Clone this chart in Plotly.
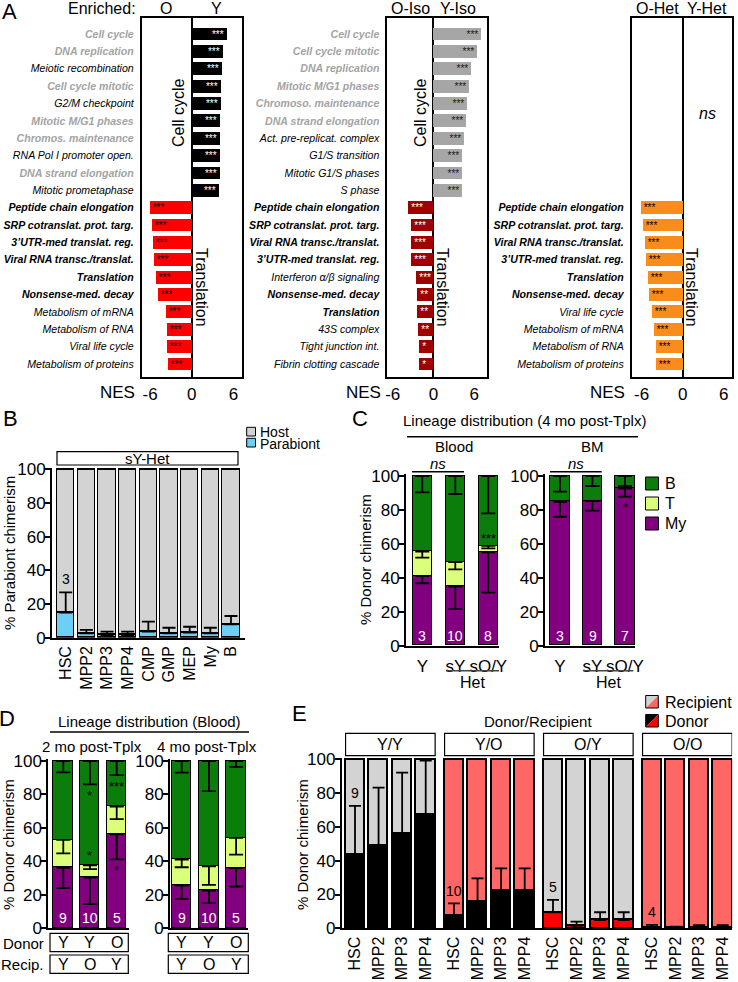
import plotly.graph_objects as go

# ======================= DATA =======================
# Panel A: GSEA normalised enrichment scores
a1_terms = ["Cell cycle", "DNA replication", "Meiotic recombination", "Cell cycle mitotic",
            "G2/M checkpoint", "Mitotic M/G1 phases", "Chromos. maintenance",
            "RNA Pol I promoter open.", "DNA strand elongation", "Mitotic prometaphase",
            "Peptide chain elongation", "SRP cotranslat. prot. targ.", "3’UTR-med translat. reg.",
            "Viral RNA transc./translat.", "Translation", "Nonsense-med. decay",
            "Metabolism of mRNA", "Metabolism of RNA", "Viral life cycle", "Metabolism of proteins"]
a1_nes = [5.1, 4.4, 4.3, 4.2, 4.2, 4.1, 4.1, 4.05, 4.05, 3.95,
          -6.05, -5.7, -5.6, -5.45, -5.25, -4.9, -3.8, -3.65, -3.6, -3.45]
a1_sig = ["***"] * 20

a2_terms = ["Cell cycle", "Cell cycle mitotic", "DNA replication", "Mitotic M/G1 phases",
            "Chromoso. maintenance", "DNA strand elongation", "Act. pre-replicat. complex",
            "G1/S transition", "Mitotic G1/S phases", "S phase",
            "Peptide chain elongation", "SRP cotranslat. prot. targ.", "Viral RNA transc./translat.",
            "3’UTR-med translat. reg.", "Interferon α/β signaling", "Nonsense-med. decay",
            "Translation", "43S complex", "Tight junction int.", "Fibrin clotting cascade"]
a2_nes = [7.0, 6.4, 5.6, 5.35, 4.95, 4.8, 4.5, 4.3, 4.3, 4.2,
          -3.75, -3.3, -3.3, -3.3, -2.6, -2.35, -2.35, -2.2, -2.1, -2.05]
a2_sig = ["***"] * 15 + ["**"] * 3 + ["*"] * 2

a3_terms = ["Peptide chain elongation", "SRP cotranslat. prot. targ.", "Viral RNA transc./translat.",
            "3’UTR-med translat. reg.", "Translation", "Nonsense-med. decay",
            "Viral life cycle", "Metabolism of mRNA", "Metabolism of RNA", "Metabolism of proteins"]
a3_nes = [-6.1, -5.8, -5.5, -5.35, -5.15, -4.9, -4.6, -4.3, -4.0, -3.9]
a3_sig = ["***"] * 10
a3_empty_rows = 10          # no cell-cycle terms enriched in Y-Het

# Panel B: parabiont chimerism in sY-Het
b_pops = ["HSC", "MPP2", "MPP3", "MPP4", "CMP", "GMP", "MEP", "My", "B"]
b_parabiont = [14.9, 2.6, 1.6, 1.6, 3.6, 2.6, 3.0, 2.6, 7.9]
b_err = [12.0, 2.0, 2.0, 2.0, 5.9, 3.3, 3.5, 3.3, 5.0]
b_n = 3

# Panel C: lineage distribution (4 mo post-Tplx)
c_groups = ["Y", "sY", "sO/Y"]
c_blood_my = [41.0, 34.8, 55.0]
c_blood_t = [14.4, 14.4, 3.8]
c_blood_my_err = [4.2, 13.3, 23.7]
c_blood_t_err = [3.5, 4.2, 1.5]
c_blood_b_err = [9.6, 10.6, 22.0]
c_blood_n = [3, 10, 8]
c_blood_sig_t = ["", "", "***"]
c_bm_my = [84.9, 85.3, 92.7]
c_bm_t = [0.0, 0.0, 0.0]
c_bm_my_err = [8.9, 5.7, 4.9]
c_bm_t_err = [0.0, 0.0, 0.0]
c_bm_b_err = [9.2, 5.9, 5.9]
c_bm_n = [3, 9, 7]
c_bm_sig_my = ["", "", "*"]

# Panel D: lineage distribution (Blood)
d_donor = ["Y", "Y", "O"]
d_recip = ["Y", "O", "Y"]
d2_my = [36.2, 30.3, 56.2]
d2_t = [16.6, 7.3, 16.5]
d2_my_err = [12.2, 15.8, 15.0]
d2_t_err = [8.0, 2.2, 7.5]
d2_b_err = [6.8, 14.0, 8.4]
d2_n = [9, 10, 5]
d2_sig_b = ["", "*", "***"]
d2_sig_t = ["", "*", ""]
d2_sig_my = ["", "", "*"]
d4_my = [25.5, 22.5, 36.0]
d4_t = [15.5, 14.5, 18.0]
d4_my_err = [8.0, 7.5, 11.0]
d4_t_err = [4.5, 11.0, 10.0]
d4_b_err = [7.0, 18.0, 3.5]
d4_n = [9, 10, 5]

# Panel E: donor chimerism (Donor/Recipient)
e_groups = ["Y/Y", "Y/O", "O/Y", "O/O"]
e_pops = ["HSC", "MPP2", "MPP3", "MPP4"]
e_donor_yy = [43.4, 48.7, 56.2, 67.1]
e_donor_yo = [7.3, 15.8, 22.1, 22.1]
e_donor_oy = [9.5, 1.4, 4.9, 4.9]
e_donor_oo = [0.4, 0.2, 0.3, 0.3]
e_err_yy = [29.0, 34.5, 35.9, 32.1]
e_err_yo = [7.5, 13.8, 13.4, 13.4]
e_err_oy = [7.3, 2.5, 4.6, 4.6]
e_err_oo = [1.6, 0.8, 1.5, 1.5]
e_n = [9, 10, 5, 4]

# ======================= STYLE / LAYOUT =======================
W, H = 738, 982
FONT = "Liberation Sans, Arial, Helvetica, sans-serif"
GREY_TERMS = {"Cell cycle", "DNA replication", "Cell cycle mitotic", "Mitotic M/G1 phases",
              "Chromos. maintenance", "Chromoso. maintenance", "DNA strand elongation"}
BOLD_TERMS = {"Peptide chain elongation", "SRP cotranslat. prot. targ.", "3’UTR-med translat. reg.",
              "Viral RNA transc./translat.", "Translation", "Nonsense-med. decay"}
C_B, C_T, C_MY = "#0b7d0b", "#dcff7a", "#82007f"
C_HOST, C_PARA = "#d3d3d3", "#6ccff6"
E_DONOR = {"Y": "#000000", "O": "#ff0000"}
E_RECIP = {"Y": "#d3d3d3", "O": "#ff6666"}
E_GAP = 0.2
TICK = 17


def X(p):
    return p / W


def Y(p):
    return 1 - p / H


def xdom(c0, step, lo, hi):
    return [X(c0 + step * lo), X(c0 + step * hi)]


def ydom(p0, p100, lo, hi):
    return [Y(p0 + (p100 - p0) * lo / 100.0), Y(p0 + (p100 - p0) * hi / 100.0)]


def sfx(k):
    return "" if k == 1 else str(k)


fig = go.Figure()
ann, shp, lay = [], [], {}


def text(x, y, s, size=15, xanchor="center", yanchor="middle", angle=0, color="black",
         xref="paper", yref="paper"):
    ann.append(dict(x=X(x) if xref == "paper" else x, y=Y(y) if yref == "paper" else y,
                    text=s, showarrow=False, textangle=angle, xref=xref, yref=yref,
                    font=dict(size=size, color=color, family=FONT),
                    xanchor=xanchor, yanchor=yanchor))


def line(x0, y0, x1, y1, w=1.5, color="black"):
    shp.append(dict(type="line", xref="paper", yref="paper", x0=X(x0), y0=Y(y0),
                    x1=X(x1), y1=Y(y1), line=dict(color=color, width=w)))


def rect(x0, y0, x1, y1, fill="rgba(0,0,0,0)", w=1.2, xref="paper"):
    shp.append(dict(type="rect", xref=xref, yref="paper",
                    x0=X(x0) if xref == "paper" else x0, x1=X(x1) if xref == "paper" else x1,
                    y0=Y(y0), y1=Y(y1), fillcolor=fill, line=dict(color="black", width=w)))


def tri(x0, y0, x1, y1, c_ul, c_lr):
    p1 = "M %f %f L %f %f L %f %f Z" % (X(x0), Y(y0), X(x1), Y(y0), X(x0), Y(y1))
    p2 = "M %f %f L %f %f L %f %f Z" % (X(x1), Y(y0), X(x1), Y(y1), X(x0), Y(y1))
    shp.append(dict(type="path", xref="paper", yref="paper", path=p1, fillcolor=c_ul, line=dict(width=0)))
    shp.append(dict(type="path", xref="paper", yref="paper", path=p2, fillcolor=c_lr, line=dict(width=0)))
    rect(x0, y0, x1, y1, w=1)


def fmt(t):
    if t in BOLD_TERMS:
        return "<b><i>%s</i></b>" % t
    if t in GREY_TERMS:
        return "<span style='color:#a3a3a3'><b><i>%s</i></b></span>" % t
    return "<i>%s</i>" % t


AX = dict(showgrid=False, zeroline=False, showline=True, linecolor="black", linewidth=1.8,
          tickfont=dict(size=TICK, family=FONT, color="black"), ticks="outside", ticklen=5,
          tickwidth=1.8, tickcolor="black", fixedrange=True)
YAX = dict(AX, tickvals=[0, 20, 40, 60, 80, 100], linewidth=2, ticklabelstandoff=-4)
TRANSP = "rgba(0,0,0,0)"

# ---------------- Panel A ----------------
A_specs = [
    (a1_terms, a1_nes, a1_sig, 0, "#000000", "#ff0000", "white", "black", (141.7, 241.7), [-7.2, 7.2]),
    (a2_terms, a2_nes, a2_sig, 0, "#a6a6a6", "#9f0000", "#1a1a1a", "white", (387.3, 486.7), [-6.8, 7.85]),
    (a3_terms, a3_nes, a3_sig, a3_empty_rows, "#f98c1a", "#f98c1a", "black", "black", (631.7, 731.7), [-7.45, 7.15]),
]
for i, (terms, nes, sig, row0, cpos, cneg, tpos, tneg, (px0, px1), xr) in enumerate(A_specs):
    k = i + 1
    rows = [row0 + j for j in range(len(terms))]
    fig.add_trace(go.Bar(
        x=nes, y=rows, orientation="h", width=0.74,
        marker=dict(color=[cpos if v > 0 else cneg for v in nes], line=dict(width=0)),
        text=sig, textposition="inside", insidetextanchor="end", textangle=0, constraintext="none",
        insidetextfont=dict(size=10, family=FONT, color=[tpos if v > 0 else tneg for v in nes]),
        xaxis="x" + sfx(k), yaxis="y" + sfx(k), showlegend=False, hoverinfo="skip"))
    lay["xaxis" + sfx(k)] = dict(AX, domain=[X(px0), X(px1)], range=xr, anchor="y" + sfx(k),
                                 tickvals=[-6, 0, 6], ticktext=["-6", "0", "6"], ticklen=1,
                                 tickcolor=TRANSP, mirror=True, linewidth=1.6,
                                 zeroline=True, zerolinecolor="black", zerolinewidth=1.5)
    lay["yaxis" + sfx(k)] = dict(AX, domain=[Y(377), Y(18)], range=[19.75, -0.92], anchor="x" + sfx(k),
                                 tickvals=rows, ticktext=[fmt(t) for t in terms],
                                 tickfont=dict(size=10.6, family=FONT, color="black"),
                                 ticklen=4, tickcolor=TRANSP, mirror=True, linewidth=1.6)

text(137.5, 9, "Enriched:", 16, xanchor="right")
text(166, 9, "O", 16)
text(216, 9, "Y", 16)
text(410, 9, "O-Iso", 16)
text(458, 9, "Y-Iso", 16)
text(657, 9, "O-Het", 16)
text(707, 9, "Y-Het", 16)
text(117, 392, "NES", 17)
text(363, 392, "NES", 17)
text(607, 392, "NES", 17)
text(178, 113, "Cell cycle", 16, angle=-90)
text(202, 287, "Translation", 16, angle=90)
text(420, 113, "Cell cycle", 16, angle=-90)
text(443, 287, "Translation", 16, angle=90)
text(692, 287, "Translation", 16, angle=90)
text(707, 113, "<i>ns</i>", 16)

# ---------------- Panel B ----------------
nb = len(b_pops)
fig.add_trace(go.Bar(x=b_pops, y=b_parabiont, width=0.84, xaxis="x4", yaxis="y4",
                     marker=dict(color=C_PARA, line=dict(color="black", width=1.5)),
                     showlegend=False, hoverinfo="skip"))
fig.add_trace(go.Bar(x=b_pops, y=[100 - v for v in b_parabiont], width=0.84, xaxis="x4", yaxis="y4",
                     marker=dict(color=C_HOST, line=dict(color="black", width=1.5)),
                     showlegend=False, hoverinfo="skip"))
fig.add_trace(go.Scatter(x=b_pops, y=b_parabiont, mode="markers", xaxis="x4", yaxis="y4",
                         marker=dict(size=1, color=TRANSP),
                         error_y=dict(type="data", symmetric=False, array=b_err, arrayminus=[0] * nb,
                                      color="black", thickness=1.8, width=6.5),
                         showlegend=False, hoverinfo="skip"))
lay["xaxis4"] = dict(AX, domain=xdom(65.7, 20.66, -0.66, 8.68), range=[-0.66, 8.68], anchor="y4",
                     ticks="", tickangle=-90, tickfont=dict(size=16, family=FONT, color="black"),
                     linewidth=2)
lay["yaxis4"] = dict(YAX, domain=ydom(637.7, 469.3, 0, 101), range=[0, 101], anchor="x4")
text(b_pops.index("HSC"), b_parabiont[0] + b_err[0] + 2, str(b_n), 14, yanchor="bottom",
     xref="x4", yref="y4")
rect(57, 451.7, 238, 465)
text(147.5, 458.5, "sY-Het", 15)
text(9, 553, "% Parabiont chimerism", 15, angle=-90)
rect(246.7, 427.3, 255.5, 436, fill=C_HOST, w=1)
rect(246.7, 438.3, 255.5, 447, fill=C_PARA, w=1)
text(257.5, 431.5, "Host", 14, xanchor="left")
text(257.5, 444, "Parabiont", 14, xanchor="left")


# ---------------- Panels C & D (lineage stacks) ----------------
def lineage(k, cats, my, t, my_err, t_err, b_err, width):
    n = len(cats)
    b = [100 - m - tt for m, tt in zip(my, t)]
    for vals, col in ((my, C_MY), (t, C_T), (b, C_B)):
        fig.add_trace(go.Bar(x=cats, y=vals, width=width, xaxis="x%d" % k, yaxis="y%d" % k,
                             marker=dict(color=col, line=dict(color="black", width=1.5)),
                             showlegend=False, hoverinfo="skip"))
    tops_t = [m + tt for m, tt in zip(my, t)]
    for tops, err in ((my, my_err), (tops_t, t_err), ([100] * n, b_err)):
        fig.add_trace(go.Scatter(x=cats, y=tops, mode="markers", xaxis="x%d" % k, yaxis="y%d" % k,
                                 marker=dict(size=1, color=TRANSP),
                                 error_y=dict(type="data", symmetric=False, array=[0] * n, arrayminus=err,
                                              color="black", thickness=1.8, width=7),
                                 showlegend=False, hoverinfo="skip"))


# C blood (axis 5) and BM (axis 6)
lineage(5, c_groups, c_blood_my, c_blood_t, c_blood_my_err, c_blood_t_err, c_blood_b_err, 0.585)
lineage(6, c_groups, c_bm_my, c_bm_t, c_bm_my_err, c_bm_t_err, c_bm_b_err, 0.595)
for k, c0, step, lo, hi in ((5, 422.3, 33.0, -0.49, 2.32), (6, 560.0, 32.5, -0.46, 2.31)):
    lay["xaxis%d" % k] = dict(AX, domain=xdom(c0, step, lo, hi), range=[lo, hi], anchor="y%d" % k,
                              ticklen=4, tickcolor=TRANSP, linewidth=2)
    lay["yaxis%d" % k] = dict(YAX, domain=ydom(645.7, 476, 0, 101), range=[0, 101], anchor="x%d" % k)
for k, ns in ((5, c_blood_n), (6, c_bm_n)):
    for j, v in enumerate(ns):
        text(j, 6, str(v), 14, color="white", xref="x%d" % k, yref="y%d" % k)
for j, s in enumerate(c_blood_sig_t):
    if s:
        text(j, c_blood_my[j] + c_blood_t[j] - 1, s, 13, yanchor="bottom", xref="x5", yref="y5")
for j, s in enumerate(c_bm_sig_my):
    if s:
        text(j, c_bm_my[j] - c_bm_my_err[j] - 1, s, 13, yanchor="top", xref="x6", yref="y6")
text(360, 419, "C", 22)
text(524, 420, "Lineage distribution (4 mo post-Tplx)", 15)
line(407, 436.7, 638, 436.7, 1.5)
text(454, 446.5, "Blood", 15)
text(592, 446.5, "BM", 15)
text(438, 463.5, "<i>ns</i>", 15)
text(576, 463.5, "<i>ns</i>", 15)
line(412, 471.7, 464, 471.7, 1.5)
line(550, 471.7, 601.7, 471.7, 1.5)
line(446, 670.7, 499, 670.7, 1.5, "#444444")
line(583.3, 670.7, 633.3, 670.7, 1.5, "#444444")
text(472.5, 682, "Het", 16)
text(608.3, 682, "Het", 16)
text(365, 560, "% Donor chimerism", 15, angle=-90)
for yy, col, lab in ((483.5, C_B, "B"), (503.5, C_T, "T"), (523.5, C_MY, "My")):
    rect(645.5, yy - 6.5, 658.5, yy + 6.5, fill=col, w=1)
    text(663, yy, lab, 16, xanchor="left")

# D 2 mo (axis 7) and 4 mo (axis 8)
d_idx = list(range(len(d_donor)))
lineage(7, d_idx, d2_my, d2_t, d2_my_err, d2_t_err, d2_b_err, 0.72)
lineage(8, d_idx, d4_my, d4_t, d4_my_err, d4_t_err, d4_b_err, 0.71)
for k, c0, step, lo, hi in ((7, 63.3, 26.7, -0.56, 2.45), (8, 181.7, 27.2, -0.43, 2.44)):
    lay["xaxis%d" % k] = dict(AX, domain=xdom(c0, step, lo, hi), range=[lo, hi], anchor="y%d" % k,
                              ticks="", showticklabels=False, linewidth=2)
    lay["yaxis%d" % k] = dict(YAX, domain=ydom(928.3, 761, 0, 101), range=[0, 101], anchor="x%d" % k)
    for j in d_idx:
        text(j, 942.5, d_donor[j], 16, xref="x%d" % k)
        text(j, 964.2, d_recip[j], 16, xref="x%d" % k)
for k, ns in ((7, d2_n), (8, d4_n)):
    for j, v in enumerate(ns):
        text(j, 6, str(v), 14, color="white", xref="x%d" % k, yref="y%d" % k)
for j in d_idx:
    if d2_sig_b[j]:
        text(j, 100 - d2_b_err[j] - 1, d2_sig_b[j], 13, yanchor="top", xref="x7", yref="y7")
    if d2_sig_t[j]:
        text(j, d2_my[j] + d2_t[j], d2_sig_t[j], 13, yanchor="bottom", xref="x7", yref="y7")
    if d2_sig_my[j]:
        text(j, d2_my[j] - d2_my_err[j] - 1, d2_sig_my[j], 13, yanchor="top", xref="x7", yref="y7")
rect(50, 933.3, 128.3, 951.7)
rect(50, 955, 128.3, 973.3)
rect(168.3, 933.3, 248.3, 951.7)
rect(168.3, 955, 248.3, 973.3)
text(45.5, 943, "Donor", 15, xanchor="right")
text(45.5, 964.2, "Recip.", 15, xanchor="right")
text(7, 718, "D", 22)
text(149.5, 721.5, "Lineage distribution (Blood)", 15)
line(50, 732, 249, 732, 1.5)
text(92, 746.5, "2 mo post-Tplx", 15)
text(206.5, 746.5, "4 mo post-Tplx", 15)
text(8, 845, "% Donor chimerism", 15, angle=-90)

# ---------------- Panel E ----------------
e_donor = e_donor_yy + e_donor_yo + e_donor_oy + e_donor_oo
e_err = e_err_yy + e_err_yo + e_err_oy + e_err_oo
e_x = [g * (len(e_pops) + E_GAP) + i for g in range(len(e_groups)) for i in range(len(e_pops))]
e_dcol = [E_DONOR[g[0]] for g in e_groups for _ in e_pops]
e_rcol = [E_RECIP[g[-1]] for g in e_groups for _ in e_pops]
fig.add_trace(go.Bar(x=e_x, y=e_donor, width=0.82, xaxis="x9", yaxis="y9",
                     marker=dict(color=e_dcol, line=dict(color="black", width=1.5)),
                     showlegend=False, hoverinfo="skip"))
fig.add_trace(go.Bar(x=e_x, y=[100 - v for v in e_donor], width=0.82, xaxis="x9", yaxis="y9",
                     marker=dict(color=e_rcol, line=dict(color="black", width=1.5)),
                     showlegend=False, hoverinfo="skip"))
fig.add_trace(go.Scatter(x=e_x, y=e_donor, mode="markers", xaxis="x9", yaxis="y9",
                         marker=dict(size=1, color=TRANSP),
                         error_y=dict(type="data", symmetric=False, array=e_err, arrayminus=[0] * len(e_x),
                                      color="black", thickness=1.8, width=6),
                         showlegend=False, hoverinfo="skip"))
lay["xaxis9"] = dict(AX, domain=xdom(355, 23.57, -0.56, 16.0), range=[-0.56, 16.0], anchor="y9",
                     ticks="", tickvals=e_x, ticktext=e_pops * len(e_groups), tickangle=-90,
                     tickfont=dict(size=16, family=FONT, color="black"), linewidth=2)
lay["yaxis9"] = dict(YAX, domain=ydom(928.3, 759.3, 0, 101), range=[0, 101], anchor="x9")
for g, name in enumerate(e_groups):
    first = e_x[g * len(e_pops)]
    last = e_x[g * len(e_pops) + len(e_pops) - 1]
    rect(first - 0.4, 733.3, last + 0.4, 755.7, xref="x9")
    ann.append(dict(x=(first + last) / 2, y=Y(744.5), xref="x9", yref="paper", text=name,
                    showarrow=False, xanchor="center", yanchor="middle",
                    font=dict(size=16, family=FONT, color="black")))
    hi = e_donor[g * len(e_pops)] + e_err[g * len(e_pops)]
    text(first, hi + 1.5, str(e_n[g]), 14, yanchor="bottom", xref="x9", yref="y9")
text(538, 721, "Donor/Recipient", 15)
text(299, 713, "E", 22)
text(302, 845, "% Donor chimerism", 15, angle=-90)
tri(645.7, 695.5, 658.3, 708, E_RECIP["Y"], E_RECIP["O"])
tri(645.7, 714.5, 658.3, 727, E_DONOR["Y"], E_DONOR["O"])
text(663, 702, "Recipient", 16, xanchor="left")
text(663, 721, "Donor", 16, xanchor="left")

# panel letters
text(9, 12, "A", 22)
text(10, 419, "B", 22)

fig.update_layout(width=W, height=H, margin=dict(l=0, r=0, t=0, b=0), template="none",
                  paper_bgcolor="white", plot_bgcolor=TRANSP, barmode="stack", bargap=0,
                  showlegend=False, font=dict(family=FONT, color="black"),
                  annotations=ann, shapes=shp, **lay)
fig.write_html("out.html", config={"displayModeBar": False},
               post_script="document.body.style.margin='0px';document.body.style.padding='0px';")
